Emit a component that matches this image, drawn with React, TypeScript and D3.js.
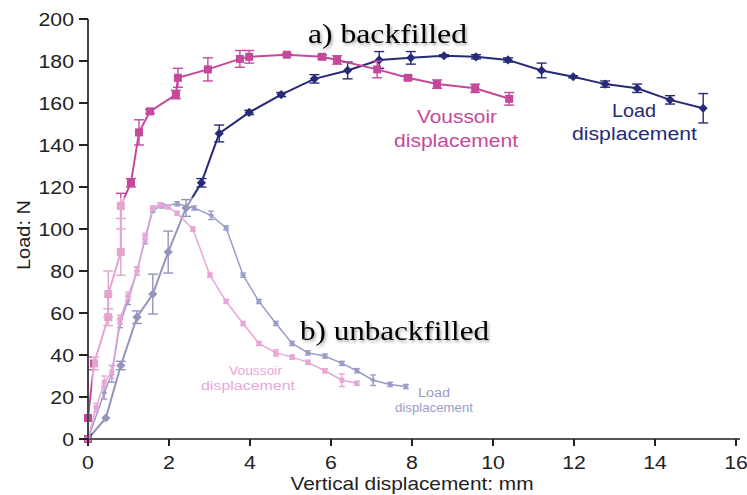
import React from "react";
import * as d3 from "d3";

const W = 747;
const H = 495;

const xTicks = [0, 2, 4, 6, 8, 10, 12, 14, 16];
const yTicks = [0, 20, 40, 60, 80, 100, 120, 140, 160, 180, 200];

// a) backfilled – voussoir displacement
const bfVouX = [0, 0, 0.15, 0.5, 0.5, 0.81, 0.81, 1.06, 1.26, 1.53, 2.17, 2.22, 2.96, 3.75, 3.98, 4.91, 5.78, 6.15, 7.14, 7.9, 8.62, 9.56, 10.4];
const bfVouY = [0, 10, 36, 58, 69, 89, 111, 122, 146, 156, 164, 172, 176, 181, 182, 183, 182, 180.5, 176, 172, 169, 167, 162];
const bfVouE = [0, 0, 3, 4, 11, 11, 6, 2, 6, 1, 2, 4.5, 5.5, 4, 3, 0.5, 1, 2, 4, 1, 2, 2, 3];

// a) backfilled – load displacement
const bfLoadX = [0, 0.44, 0.81, 1.21, 1.6, 1.98, 2.42, 2.8, 3.24, 3.98, 4.77, 5.59, 6.41, 7.19, 7.97, 8.79, 9.58, 10.37, 11.2, 11.98, 12.77, 13.56, 14.37, 15.19];
const bfLoadY = [0, 10, 35, 58, 69, 89, 110, 122, 145.5, 155.5, 164, 171.5, 175.5, 180.5, 181.5, 182.5, 182, 180.5, 175.5, 172.5, 169, 167, 161.5, 157.5];
const bfLoadE = [0, 0, 2, 3, 9.5, 10, 4, 2, 4, 1, 1, 2, 4, 4, 3, 0.5, 1, 1, 3.5, 0.5, 1.5, 2, 2, 7];

// b) unbackfilled – voussoir displacement
const ubVouX = [0, 0.2, 0.4, 0.59, 0.79, 0.99, 1.21, 1.41, 1.6, 1.78, 1.98, 2.2, 2.59, 3.01, 3.41, 3.83, 4.22, 4.64, 5.04, 5.43, 5.85, 6.27, 6.64];
const ubVouY = [0, 15, 27, 32, 57, 68, 80, 96, 110, 111.5, 110.5, 107.5, 100, 78, 65.5, 55, 45.5, 41, 39, 36.5, 32.5, 28, 26.5];
const ubVouE = [0, 2, 3, 3, 2, 2, 2, 2, 1, 1, 1, 1, 1, 1, 1, 1, 1, 1.5, 1, 1, 1, 3, 1];

// b) unbackfilled – load displacement
const ubLoadX = [0, 0.4, 0.59, 0.79, 0.99, 1.21, 1.41, 1.6, 1.83, 2.2, 2.62, 3.04, 3.41, 3.83, 4.22, 4.64, 5.04, 5.43, 5.85, 6.27, 6.64, 7.04, 7.46, 7.85];
const ubLoadY = [0, 22, 31, 55, 66, 80, 95, 109, 111, 112, 110, 106.5, 100.5, 78, 65.5, 55, 45.5, 41, 39.5, 36, 32.5, 28, 26, 25];
const ubLoadE = [0, 3, 4, 2, 2, 2, 2, 1, 1, 1, 1, 2, 1, 1, 1, 1, 1, 1, 1, 1, 1, 2.5, 1, 1];

const C_BF_VOU = "#c6489b";
const C_BF_LOAD = "#262a78";
const C_UB_VOU = "#e8a6d8";
const C_UB_LOAD = "#9a9cc8";

const x = d3.scaleLinear().domain([0, 16]).range([88, 736]);
const y = d3.scaleLinear().domain([0, 200]).range([439, 19]);

type Pt = { x: number; y: number; e: number };
const zip = (xs: number[], ys: number[], es: number[]): Pt[] =>
  xs.map((v, i) => ({ x: v, y: ys[i], e: es[i] }));

const line = d3
  .line<Pt>()
  .x((d) => x(d.x))
  .y((d) => y(d.y));

function Series({
  data,
  color,
  shape,
  size,
  width,
  cap,
}: {
  data: Pt[];
  color: string;
  shape: "square" | "diamond";
  size: number;
  width: number;
  cap: number;
}) {
  return (
    <g>
      <path d={line(data) || ""} fill="none" stroke={color} strokeWidth={width} />
      {data.map((d, i) =>
        d.e > 0 ? (
          <g key={"e" + i} stroke={color} strokeWidth={1.4}>
            <line x1={x(d.x)} x2={x(d.x)} y1={y(d.y + d.e)} y2={y(d.y - d.e)} />
            <line x1={x(d.x) - cap} x2={x(d.x) + cap} y1={y(d.y + d.e)} y2={y(d.y + d.e)} />
            <line x1={x(d.x) - cap} x2={x(d.x) + cap} y1={y(d.y - d.e)} y2={y(d.y - d.e)} />
          </g>
        ) : null
      )}
      {data.map((d, i) =>
        shape === "square" ? (
          <rect
            key={"m" + i}
            x={x(d.x) - size / 2}
            y={y(d.y) - size / 2}
            width={size}
            height={size}
            fill={color}
          />
        ) : (
          <rect
            key={"m" + i}
            x={-size / 2}
            y={-size / 2}
            width={size}
            height={size}
            fill={color}
            transform={`translate(${x(d.x)},${y(d.y)}) rotate(45)`}
          />
        )
      )}
    </g>
  );
}

const sans = "'Liberation Sans', Arial, sans-serif";
const serif = "'Liberation Serif', 'Times New Roman', serif";

export default function App() {
  const bfVou = zip(bfVouX, bfVouY, bfVouE);
  const bfLoad = zip(bfLoadX, bfLoadY, bfLoadE);
  const ubVou = zip(ubVouX, ubVouY, ubVouE);
  const ubLoad = zip(ubLoadX, ubLoadY, ubLoadE);

  return (
    <svg
      width={W}
      height={H}
      viewBox={`0 0 ${W} ${H}`}
      style={{ position: "absolute", left: 0, top: 0, background: "#fff" }}
    >
      <defs>
        <filter id="shadow" x="-10%" y="-30%" width="130%" height="170%">
          <feDropShadow dx="1.5" dy="2" stdDeviation="1.5" floodColor="#000" floodOpacity="0.35" />
        </filter>
      </defs>
      <rect x={0} y={0} width={W} height={H} fill="#fff" />

      {/* backfilled series */}
      <Series data={bfLoad} color={C_BF_LOAD} shape="diamond" size={6.5} width={2} cap={5} />
      <Series data={bfVou} color={C_BF_VOU} shape="square" size={8} width={2} cap={5} />

      {/* translucent overlay of the unbackfilled panel */}
      <rect
        x={x(0) + 4}
        y={y(115)}
        width={x(16) - x(0) - 4}
        height={y(0) - y(115) - 1}
        fill="#fff"
        opacity={0.5}
      />

      {/* unbackfilled series */}
      <Series data={ubLoad} color={C_UB_LOAD} shape="diamond" size={4} width={1.5} cap={3} />
      <Series data={ubVou} color={C_UB_VOU} shape="square" size={5} width={1.5} cap={3} />

      {/* axes */}
      <line x1={x(0)} x2={x(0)} y1={y(200)} y2={y(0)} stroke="#444" strokeWidth={2} />
      <line x1={x(0)} x2={x(16) + 4} y1={y(0)} y2={y(0)} stroke="#555" strokeWidth={2} />
      {yTicks.map((t) => (
        <g key={"y" + t}>
          <line x1={x(0) - 9} x2={x(0)} y1={y(t)} y2={y(t)} stroke="#222" strokeWidth={2} />
          <text
            transform={`translate(${x(0) - 14},${y(t) + 7}) scale(1.12,1)`}
            textAnchor="end"
            fontFamily={sans}
            fontSize={19}
            fill="#222"
          >
            {t}
          </text>
        </g>
      ))}
      {xTicks.map((t) => (
        <g key={"x" + t}>
          <line x1={x(t)} x2={x(t)} y1={y(0)} y2={y(0) + 7} stroke="#222" strokeWidth={2} />
          <text
            transform={`translate(${x(t)},${y(0) + 30}) scale(1.12,1)`}
            textAnchor="middle"
            fontFamily={sans}
            fontSize={19}
            fill="#222"
          >
            {t}
          </text>
        </g>
      ))}
      <text
        x={412}
        y={490}
        textAnchor="middle"
        fontFamily={sans}
        fontSize={19}
        fill="#222"
        textLength={243}
        lengthAdjust="spacingAndGlyphs"
      >
        Vertical displacement: mm
      </text>
      <text
        transform={`translate(30,235) rotate(-90)`}
        textAnchor="middle"
        fontFamily={sans}
        fontSize={18}
        fill="#222"
        textLength={70}
        lengthAdjust="spacingAndGlyphs"
      >
        Load: N
      </text>

      {/* titles */}
      <text
        x={308}
        y={43}
        fontFamily={serif}
        fontSize={27}
        fill="#000"
        filter="url(#shadow)"
        textLength={159}
        lengthAdjust="spacingAndGlyphs"
      >
        a) backfilled
      </text>
      <text
        x={300}
        y={340}
        fontFamily={serif}
        fontSize={28}
        fill="#000"
        filter="url(#shadow)"
        textLength={189}
        lengthAdjust="spacingAndGlyphs"
      >
        b) unbackfilled
      </text>

      {/* series labels */}
      <text x={417} y={123} fontFamily={sans} fontSize={18} fill={C_BF_VOU} textLength={80} lengthAdjust="spacingAndGlyphs">
        Voussoir
      </text>
      <text x={394} y={147} fontFamily={sans} fontSize={18} fill={C_BF_VOU} textLength={124} lengthAdjust="spacingAndGlyphs">
        displacement
      </text>
      <text x={612} y={117} fontFamily={sans} fontSize={18} fill={C_BF_LOAD} textLength={44} lengthAdjust="spacingAndGlyphs">
        Load
      </text>
      <text x={572} y={140} fontFamily={sans} fontSize={18} fill={C_BF_LOAD} textLength={125} lengthAdjust="spacingAndGlyphs">
        displacement
      </text>
      <text x={229} y={375} fontFamily={sans} fontSize={12} fill={C_UB_VOU} textLength={53} lengthAdjust="spacingAndGlyphs">
        Voussoir
      </text>
      <text x={201} y={390} fontFamily={sans} fontSize={12} fill={C_UB_VOU} textLength={94} lengthAdjust="spacingAndGlyphs">
        displacement
      </text>
      <text x={418} y={397} fontFamily={sans} fontSize={12} fill={C_UB_LOAD} textLength={32} lengthAdjust="spacingAndGlyphs">
        Load
      </text>
      <text x={395} y={412} fontFamily={sans} fontSize={12} fill={C_UB_LOAD} textLength={78} lengthAdjust="spacingAndGlyphs">
        displacement
      </text>
    </svg>
  );
}
